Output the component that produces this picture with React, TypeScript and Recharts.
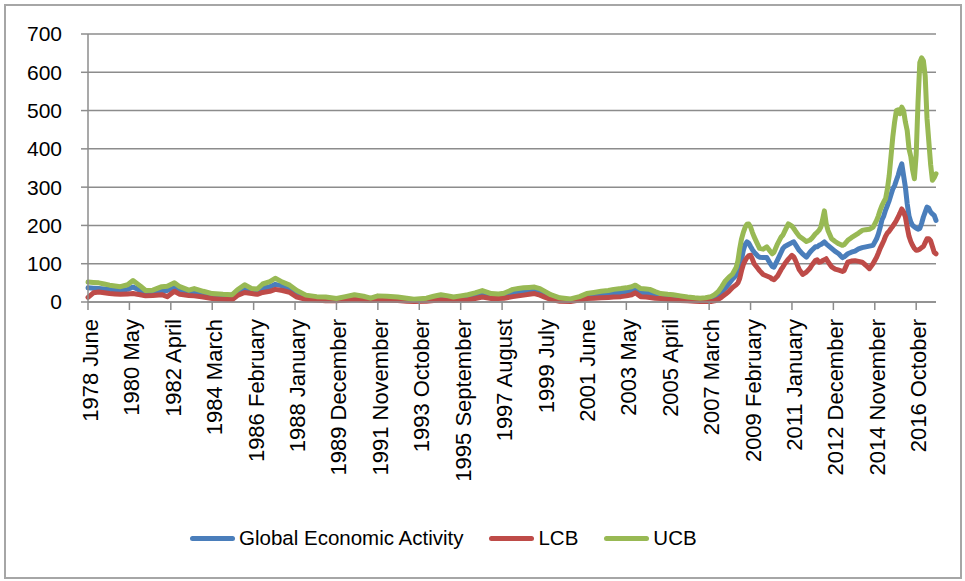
import React from 'react';
import { LineChart, Line, XAxis, YAxis, CartesianGrid, Legend } from 'recharts';

// month offset counted from 1978 June (0 = 1978 June)
const MONTH = [
  0, 3, 6, 9, 12, 15, 18, 22, 25, 29, 32, 36, 41, 44, 48, 51, 56, 59, 64, 69, 75, 80, 83, 87, 91, 94, 97, 101, 104,
  108, 112, 116, 121, 127, 132, 138, 143, 148, 153, 157, 161, 166, 172, 177, 181, 188, 192, 196, 200, 203, 207, 211,
  215, 219, 224, 228, 231, 236, 239, 242, 245, 248, 251, 254, 257, 262, 268, 273, 277, 281, 285, 289, 292, 296, 299,
  302, 304, 307, 310, 312, 315, 318, 322, 325, 329, 333, 337, 340, 343, 346, 348, 350, 352, 354, 356, 358, 360, 361,
  362, 363, 364, 365, 366, 367, 368, 369, 370, 372, 373, 375, 377, 379, 380, 381, 383, 385, 386, 387, 389, 391, 392,
  393, 395, 397, 399, 401, 402, 404, 405, 406, 407, 408, 409, 410, 411, 413, 415, 417, 419, 420, 422, 424, 426, 428,
  430, 432, 434, 436, 438, 439, 440, 441, 442, 443, 444, 445, 446, 447, 448, 449, 450, 451, 452, 453, 454, 455, 456,
  457, 458, 459, 460, 461, 462, 463, 464, 465, 466, 467, 468, 469, 470, 471,
];

const GEA = [
  37, 36, 35, 34, 33, 31, 30, 33, 39, 30, 22, 24, 28, 30, 37, 30, 25, 26, 21, 16, 14, 12, 24, 35, 28, 27, 36, 40, 46,
  42, 34, 22, 12, 9, 8, 6, 10, 13, 10, 7, 11, 10, 8, 6, 4, 6, 9, 12, 10, 8, 10, 12,
  17, 21, 15, 15, 16, 23, 25, 27, 29, 30, 26, 19, 13, 6, 4, 9, 15, 17, 19, 21, 23, 24, 26,
  29, 33, 25, 24, 22, 18, 15, 13, 12, 10, 8, 6, 5, 5, 6, 10, 16, 27, 36, 48, 60, 70, 76,
  90, 112, 135, 150, 157, 154, 145, 137, 130, 120, 117, 116, 116, 100, 93, 91, 110, 130, 140, 145, 150, 155, 157,
  150, 135, 125, 117, 130, 135, 144, 144, 148, 150, 153, 157, 152, 148, 140, 132, 126, 116, 118, 126, 130, 133, 139,
  142, 144, 146, 148, 165, 178, 195, 215, 225, 240, 252, 265, 280, 295, 304, 318, 331, 348, 361, 330, 300, 257, 225,
  209, 200, 196, 193, 190, 192, 205, 222, 235, 248, 245, 235, 230, 226, 213,
];

const LCB = [
  12, 24, 26, 24, 22, 21, 20, 21, 22, 19, 16, 17, 19, 14, 28, 20, 17, 16, 13, 9, 7, 6, 17, 25, 22, 20, 25, 28, 33,
  30, 25, 13, 7, 5, 3, 3, 5, 7, 5, 4, 6, 5, 4, 2, 1, 2, 4, 6, 5, 4, 5, 6,
  9, 13, 9, 9, 10, 14, 16, 18, 20, 22, 18, 12, 7, 2, 1, 5, 9, 10, 11, 12, 13, 14, 16,
  19, 24, 14, 13, 12, 10, 9, 7, 6, 4, 3, 2, 1, 1, 1, 3, 7, 13, 20, 28, 38, 45, 50,
  62, 82, 98, 108, 116, 121, 122, 112, 100, 88, 82, 72, 68, 64, 60, 58, 68, 85, 92, 100, 112, 122, 118,
  108, 85, 72, 78, 88, 96, 108, 110, 104, 105, 108, 110, 113, 105, 92, 86, 83, 80, 82, 104, 107, 108, 106,
  104, 96, 87, 100, 117, 128, 140, 150, 160, 172, 180, 185, 192, 198, 205, 213, 222, 232, 243, 235, 222, 195, 172,
  158, 148, 140, 135, 136, 138, 142, 145, 155, 165, 165, 160, 145, 130, 126,
];

const UCB = [
  52, 51, 50, 47, 44, 42, 40, 45, 56, 42, 30, 31, 40, 41, 50, 40, 31, 35, 28, 22, 20, 19, 32, 45, 35, 34, 47, 53, 62,
  52, 44, 30, 18, 14, 13, 9, 14, 19, 15, 10, 16, 15, 13, 10, 7, 10, 15, 19, 16, 13, 16, 19,
  24, 30, 22, 21, 23, 33, 35, 37, 38, 39, 35, 27, 19, 11, 8, 14, 22, 25, 28, 30, 33, 35, 37,
  40, 44, 35, 34, 33, 27, 22, 20, 19, 16, 13, 11, 10, 11, 14, 19, 27, 40, 55, 65, 73, 90, 108,
  140, 165, 182, 195, 203, 204, 196, 182, 170, 150, 140, 138, 144, 132, 126, 130, 152, 170, 175, 185, 204, 198, 192,
  185, 172, 165, 158, 162, 166, 178, 182, 187, 195, 215, 238, 205, 187, 165, 158, 152, 148, 150, 161, 168, 174, 180,
  187, 189, 190, 195, 213, 225, 240, 252, 262, 270, 295, 330, 380, 431, 470, 500, 502, 492, 509, 500, 470, 448, 400,
  380, 345, 322, 385, 520, 625, 638, 630, 590, 480, 420, 360, 318, 325, 335,
];

const TICK_MONTHS = [0, 23, 46, 69, 92, 115, 138, 161, 184, 207, 230, 253, 276, 299, 322, 345, 368, 391, 414, 437, 460];
const TICK_LABELS = [
  '1978 June', '1980 May', '1982 April', '1984 March', '1986 February', '1988 January', '1989 December',
  '1991 November', '1993 October', '1995 September', '1997 August', '1999 July', '2001 June', '2003 May',
  '2005 April', '2007 March', '2009 February', '2011 January', '2012 December', '2014 November', '2016 October',
];
const Y_TICKS = [0, 100, 200, 300, 400, 500, 600, 700];

const data = MONTH.map((m, k) => ({ m, gea: GEA[k], lcb: LCB[k], ucb: UCB[k] }));

const FONT = '"Liberation Sans", Arial, sans-serif';
const GRID = '#8c8c8c';

const MonthTick = ({ x, y, payload }: any) => {
  const label = TICK_LABELS[TICK_MONTHS.indexOf(payload.value)];
  return (
    <text x={x} y={y} dy={10} transform={`rotate(-90, ${x}, ${y})`} textAnchor="end" fontSize={22} fontFamily={FONT} fill="#000">
      {label}
    </text>
  );
};

const SeriesLegend = ({ payload }: any) => (
  <div style={{ display: 'flex', alignItems: 'center', paddingLeft: 190, fontFamily: FONT, fontSize: 20.5, color: '#000' }}>
    {(payload || []).map((p: any) => (
      <div key={p.value} style={{ display: 'flex', alignItems: 'center', marginRight: 26 }}>
        <div style={{ width: 45, height: 5, borderRadius: 3, background: p.color, marginRight: 4 }} />
        <span>{p.value}</span>
      </div>
    ))}
  </div>
);

export default function App() {
  return (
    <div style={{ position: 'fixed', left: 0, top: 0, width: 965, height: 581, background: '#fff' }}>
      <div style={{ position: 'absolute', left: 4, top: 4, width: 954, height: 571, border: '2px solid #a6a6a6' }} />
      <LineChart width={965} height={581} data={data} margin={{ top: 34, right: 29, bottom: 0, left: 0 }}>
        <CartesianGrid horizontal vertical={false} stroke={GRID} strokeWidth={1.5} />
        <XAxis
          dataKey="m"
          type="number"
          domain={[0, 471]}
          ticks={TICK_MONTHS}
          interval={0}
          height={279}
          tickSize={8}
          tickMargin={9}
          stroke={GRID}
          strokeWidth={1.5}
          tick={<MonthTick />}
        />
        <YAxis
          domain={[0, 700]}
          ticks={Y_TICKS}
          width={88}
          tickSize={7}
          tickMargin={19}
          stroke={GRID}
          strokeWidth={1.5}
          tick={{ fontSize: 21, fontFamily: FONT, fill: '#000' }}
        />
        <Legend
          layout="horizontal"
          verticalAlign="middle"
          align="center"
          content={<SeriesLegend />}
          wrapperStyle={{ top: 526, left: 0, width: 965 }}
        />
        <Line dataKey="gea" name="Global Economic Activity" type="linear" stroke="#4a7ebb" strokeWidth={5} dot={false} strokeLinejoin="round" strokeLinecap="round" isAnimationActive={false} />
        <Line dataKey="lcb" name="LCB" type="linear" stroke="#be4b48" strokeWidth={5} dot={false} strokeLinejoin="round" strokeLinecap="round" isAnimationActive={false} />
        <Line dataKey="ucb" name="UCB" type="linear" stroke="#98b954" strokeWidth={5} dot={false} strokeLinejoin="round" strokeLinecap="round" isAnimationActive={false} />
      </LineChart>
    </div>
  );
}
